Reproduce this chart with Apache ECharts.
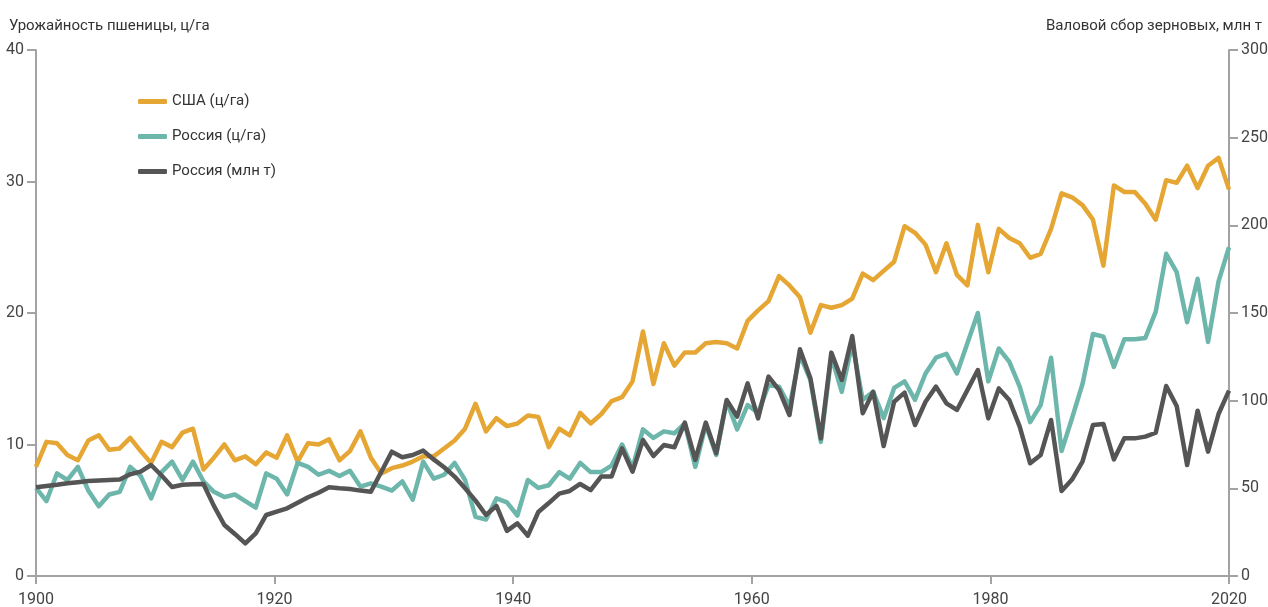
<!DOCTYPE html>
<html>
<head>
<meta charset="utf-8">
<script src="https://cdn.jsdelivr.net/npm/echarts@6.0.0/dist/echarts.min.js"></script>
<style>
  html, body { margin: 0; padding: 0; background: #fff; }
  #chart { width: 1268px; height: 607px; }
</style>
</head>
<body>
<div id="chart"></div>
<script>
// годы 1900..2014, подписи оси как на исходнике
const firstYear = 1900;
const xTickLabels = ['1900', '1920', '1940', '1960', '1980', '2020'];

// урожайность пшеницы США, ц/га
const usaYield = [
  8.3, 10.2, 10.1, 9.2, 8.8, 10.3, 10.7, 9.6, 9.7, 10.5,
  9.5, 8.6, 10.2, 9.8, 10.9, 11.2, 8.1, 9.0, 10.0, 8.8,
  9.1, 8.5, 9.4, 9.0, 10.7, 8.7, 10.1, 10.0, 10.4, 8.8,
  9.5, 11.0, 9.0, 7.8, 8.2, 8.4, 8.7, 9.1, 9.1, 9.7,
  10.3, 11.2, 13.1, 11.0, 12.0, 11.4, 11.6, 12.2, 12.1, 9.8,
  11.2, 10.7, 12.4, 11.6, 12.3, 13.3, 13.6, 14.8, 18.6, 14.6,
  17.7, 16.0, 17.0, 17.0, 17.7, 17.8, 17.7, 17.3, 19.4, 20.2,
  20.9, 22.8, 22.1, 21.2, 18.5, 20.6, 20.4, 20.6, 21.1, 23.0,
  22.5, 23.2, 23.9, 26.6, 26.1, 25.2, 23.1, 25.3, 22.9, 22.1,
  26.7, 23.1, 26.4, 25.7, 25.3, 24.2, 24.5, 26.4, 29.1, 28.8,
  28.2, 27.1, 23.6, 29.7, 29.2, 29.2, 28.3, 27.1, 30.1, 29.9,
  31.2, 29.5, 31.2, 31.8, 29.4
];

// урожайность пшеницы Россия, ц/га
const rusYield = [
  6.7, 5.7, 7.8, 7.3, 8.3, 6.5, 5.3, 6.2, 6.4, 8.3,
  7.6, 5.9, 7.9, 8.7, 7.3, 8.7, 7.2, 6.4, 6.0, 6.2,
  5.7, 5.2, 7.8, 7.4, 6.2, 8.6, 8.3, 7.7, 8.0, 7.6,
  8.0, 6.8, 7.05, 6.8, 6.5, 7.2, 5.8, 8.7, 7.4, 7.7,
  8.6, 7.3, 4.5, 4.3, 5.9, 5.6, 4.6, 7.3, 6.7, 6.9,
  7.9, 7.4, 8.6, 7.9, 7.9, 8.4, 10.0, 8.2, 11.15, 10.5,
  11.0, 10.85, 11.6, 8.3, 11.5, 9.2, 13.3, 11.15, 13.0, 12.4,
  14.5, 14.4, 12.9, 16.8, 14.9, 10.2, 16.7, 14.0, 17.7, 13.4,
  14.0, 12.0, 14.3, 14.8, 13.4, 15.4, 16.6, 16.9, 15.4, 17.7,
  20.0, 14.8, 17.3, 16.3, 14.4, 11.7, 13.0, 16.6, 9.5, 12.0,
  14.6, 18.4, 18.2, 15.9, 18.0, 18.0, 18.1, 20.1, 24.5, 23.1,
  19.3, 22.6, 17.8, 22.4, 25.0
];

// валовой сбор зерновых Россия, млн т
const rusHarvest = [
  50.6, 51.3, 52.0, 52.9, 53.5, 54.2, 54.5, 54.8, 55.0, 58.0,
  59.5, 63.3, 57.3, 50.8, 52.0, 52.3, 52.5, 40.0, 29.1, 24.0,
  18.6, 24.3, 34.8, 36.7, 38.6, 41.8, 44.9, 47.5, 50.6, 50.0,
  49.6, 48.7, 48.1, 59.5, 70.9, 67.7, 69.0, 71.5, 66.5, 62.0,
  56.7, 50.0, 43.0, 34.8, 40.0, 25.7, 30.0, 23.0, 36.5, 41.6,
  47.0, 48.5, 52.5, 49.0, 56.7, 56.7, 72.8, 59.5, 77.6, 68.4,
  74.7, 73.4, 87.5, 66.2, 87.5, 70.0, 100.4, 90.9, 109.9, 89.9,
  113.7, 106.1, 91.8, 129.3, 112.8, 78.5, 127.4, 111.8, 136.9, 92.8,
  105.1, 74.1, 99.4, 104.6, 86.1, 99.4, 108.0, 98.5, 94.7, 106.0,
  117.5, 89.9, 107.0, 100.4, 85.2, 64.3, 69.0, 89.0, 48.5, 55.0,
  65.2, 86.1, 86.7, 66.5, 78.5, 78.5, 79.5, 81.7, 108.4, 97.0,
  63.3, 94.3, 70.9, 92.4, 105.7
];

const font = 'Roboto, "Liberation Sans Narrow", sans-serif';
const axisGrey = '#a3a3a3';
const lastIdx = usaYield.length - 1;
const xStep = lastIdx / (xTickLabels.length - 1);

// точки [номер года от 1900, значение]
const toPoints = arr => arr.map((v, i) => [i, v]);

let chart = echarts.init(document.getElementById('chart'));
const option = {
  animation: false,
  title: [
    {
      text: 'Урожайность пшеницы, ц/га',
      left: 9, top: 19, padding: 0,
      textStyle: { fontFamily: font, fontSize: 15, fontWeight: 'normal', color: '#333' }
    },
    {
      text: 'Валовой сбор зерновых, млн т',
      right: 6, top: 19, padding: 0,
      textStyle: { fontFamily: font, fontSize: 15, fontWeight: 'normal', color: '#333' }
    }
  ],
  legend: {
    orient: 'vertical',
    left: 138, top: 94, padding: 0,
    itemGap: 20,
    itemWidth: 29, itemHeight: 5,
    icon: 'roundRect',
    textStyle: { fontFamily: font, fontSize: 15, color: '#333' },
    data: ['США (ц/га)', 'Россия (ц/га)', 'Россия (млн т)']
  },
  grid: { left: 36, right: 39, top: 50, bottom: 31, outerBoundsMode: 'none' },
  xAxis: {
    type: 'value',
    min: 0, max: lastIdx, interval: xStep,
    axisLine: { lineStyle: { color: axisGrey, width: 2 } },
    axisTick: { show: true, length: 8, lineStyle: { color: axisGrey, width: 2 } },
    axisLabel: {
      margin: 16, fontFamily: font, fontSize: 16, color: '#444',
      formatter: v => xTickLabels[Math.round(v / xStep)] || ''
    },
    splitLine: { show: false }
  },
  yAxis: [
    {
      type: 'value', min: 0, max: 40, interval: 10, position: 'left',
      axisLine: { show: true, lineStyle: { color: axisGrey, width: 2 } },
      axisTick: { show: true, length: 9, lineStyle: { color: axisGrey, width: 2 } },
      axisLabel: { margin: 12, fontFamily: font, fontSize: 16, color: '#444' },
      splitLine: { show: false }
    },
    {
      type: 'value', min: 0, max: 300, interval: 50, position: 'right',
      axisLine: { show: true, lineStyle: { color: axisGrey, width: 2 } },
      axisTick: { show: true, length: 9, lineStyle: { color: axisGrey, width: 2 } },
      axisLabel: { margin: 12, fontFamily: font, fontSize: 16, color: '#444' },
      splitLine: { show: false }
    }
  ],
  series: [
    {
      name: 'США (ц/га)', type: 'line', yAxisIndex: 0,
      data: toPoints(usaYield), showSymbol: false,
      itemStyle: { color: '#e6a634' },
      lineStyle: { color: '#e6a634', width: 4.5, join: 'round' }
    },
    {
      name: 'Россия (ц/га)', type: 'line', yAxisIndex: 0,
      data: toPoints(rusYield), showSymbol: false,
      itemStyle: { color: '#6db6ab' },
      lineStyle: { color: '#6db6ab', width: 4.5, join: 'round' }
    },
    {
      name: 'Россия (млн т)', type: 'line', yAxisIndex: 1,
      data: toPoints(rusHarvest), showSymbol: false,
      itemStyle: { color: '#555555' },
      lineStyle: { color: '#555555', width: 4.5, join: 'round' }
    }
  ]
};
chart.setOption(option);
</script>
</body>
</html>
